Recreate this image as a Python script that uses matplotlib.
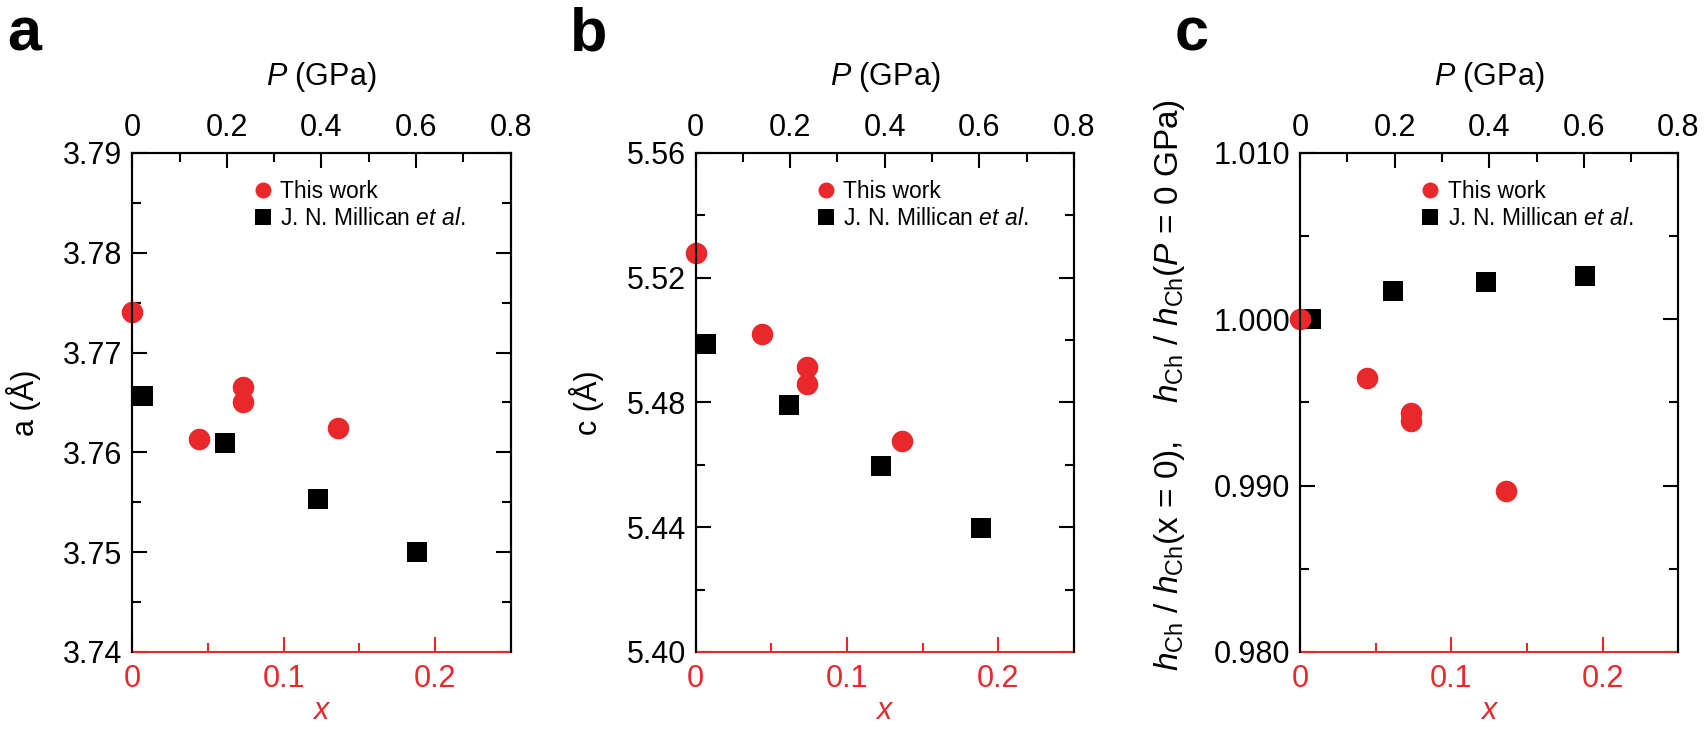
import numpy as np
import matplotlib
matplotlib.use("Agg")
import matplotlib.pyplot as plt
from matplotlib.ticker import MultipleLocator, FormatStrFormatter

plt.rcParams['font.family'] = ['Liberation Sans', 'DejaVu Sans']
plt.rcParams['mathtext.fontset'] = 'custom'
plt.rcParams['mathtext.rm'] = 'Liberation Sans'
plt.rcParams['mathtext.it'] = 'Liberation Sans:italic'
plt.rcParams['mathtext.bf'] = 'Liberation Sans:bold'

# ---- data ----
x_this = [0.0, 0.0442, 0.0733, 0.0733, 0.1362]
x_mill = [0.0072, 0.0614, 0.1227, 0.1884]

a_this = [3.7741, 3.7613, 3.7666, 3.7650, 3.7624]
a_mill = [3.7657, 3.7609, 3.7553, 3.7500]

c_this = [5.5279, 5.5020, 5.4913, 5.4858, 5.4675]
c_mill = [5.4988, 5.4792, 5.4595, 5.4396]

h_this = [1.0000, 0.99645, 0.99434, 0.99386, 0.98970]
h_mill = [1.0000, 1.00173, 1.00224, 1.00263]

panel_letters = ['a', 'b', 'c']
ylabels = ['a (Å)', 'c (Å)',
           r'$h_{\rm Ch}$ / $h_{\rm Ch}$(x = 0),    $h_{\rm Ch}$ / $h_{\rm Ch}$($P$ = 0 GPa)']
ylims = [(3.74, 3.79), (5.40, 5.56), (0.980, 1.010)]
ymajor = [0.01, 0.04, 0.01]
yfmt = ['%.2f', '%.2f', '%.3f']
xticks_bottom = [0, 0.1, 0.2]
xticklabels_bottom = ['0', '0.1', '0.2']
pticks = [0, 0.2, 0.4, 0.6, 0.8]
pticklabels = ['0', '0.2', '0.4', '0.6', '0.8']

RED = '#e8282b'
FS = 22

fig = plt.figure(figsize=(17.04, 7.31), dpi=100)
lefts = [0.0776, 0.4082, 0.7629]
width = 0.2221
bottom = 0.1081
height = 0.6826

series = [(a_this, a_mill), (c_this, c_mill), (h_this, h_mill)]

for i in range(3):
    ax = fig.add_axes([lefts[i], bottom, width, height])
    yt, ym = series[i]
    ax.plot(x_this, yt, linestyle='none', marker='o', markersize=15.5,
            color=RED, markeredgewidth=0, label='This work', clip_on=False, zorder=5)
    ax.plot(x_mill, ym, linestyle='none', marker='s', markersize=15,
            color='black', markeredgewidth=0, label=r'J. N. Millican $\it{et\ al.}$',
            clip_on=False, zorder=4)

    ax.set_xlim(0, 0.25)
    ax.set_ylim(*ylims[i])
    ax.set_xticks(xticks_bottom)
    ax.set_xticklabels(xticklabels_bottom)
    ax.xaxis.set_minor_locator(MultipleLocator(0.05))
    ax.yaxis.set_major_locator(MultipleLocator(ymajor[i]))
    ax.yaxis.set_minor_locator(MultipleLocator(ymajor[i] / 2))
    ax.yaxis.set_major_formatter(FormatStrFormatter(yfmt[i]))

    ax.tick_params(axis='both', which='both', direction='in', labelsize=FS)
    ax.tick_params(axis='y', which='both', left=True, right=True)
    ax.tick_params(axis='x', which='both', top=False, colors=RED)
    ax.tick_params(which='major', length=11, width=1.5)
    ax.tick_params(which='minor', length=6.5, width=1.5)
    ax.tick_params(axis='y', pad=7)
    ax.tick_params(axis='x', pad=9)
    for s in ax.spines.values():
        s.set_linewidth(1.5)
    ax.spines['bottom'].set_color(RED)

    ax.set_xlabel(r'$x$', color=RED, fontsize=FS, labelpad=1)
    if i < 2:
        ax.set_ylabel(ylabels[i], fontsize=FS, labelpad=16)
    else:
        ax.set_ylabel(ylabels[i], fontsize=24, labelpad=19)
        ax.yaxis.label.set_y(0.535)

    # top pressure axis
    ax2 = ax.twiny()
    ax2.set_xlim(0, 0.8)
    ax2.set_xticks(pticks)
    ax2.set_xticklabels(pticklabels)
    ax2.xaxis.set_minor_locator(MultipleLocator(0.1))
    ax2.tick_params(axis='x', which='both', direction='in', labelsize=FS, pad=7)
    ax2.tick_params(which='major', length=11, width=1.5)
    ax2.tick_params(which='minor', length=6.5, width=1.5)
    for s in ax2.spines.values():
        s.set_linewidth(1.5)
    ax2.spines['bottom'].set_visible(False)
    ax2.set_xlabel(r'$P$ (GPa)', fontsize=FS, labelpad=20)

    leg = ax.legend(loc='upper left', bbox_to_anchor=(0.29, 0.965), frameon=False,
                    fontsize=16.5, handletextpad=0.25, labelspacing=0.2,
                    handlelength=1.0, borderaxespad=0)
    for h in leg.legend_handles:
        h.set_markersize(11.5)

    fig.text(lefts[i] - 0.0735, 0.9316, panel_letters[i], fontsize=44,
             fontweight='bold', va='baseline', ha='left')

fig.savefig('out.png', dpi=100)
